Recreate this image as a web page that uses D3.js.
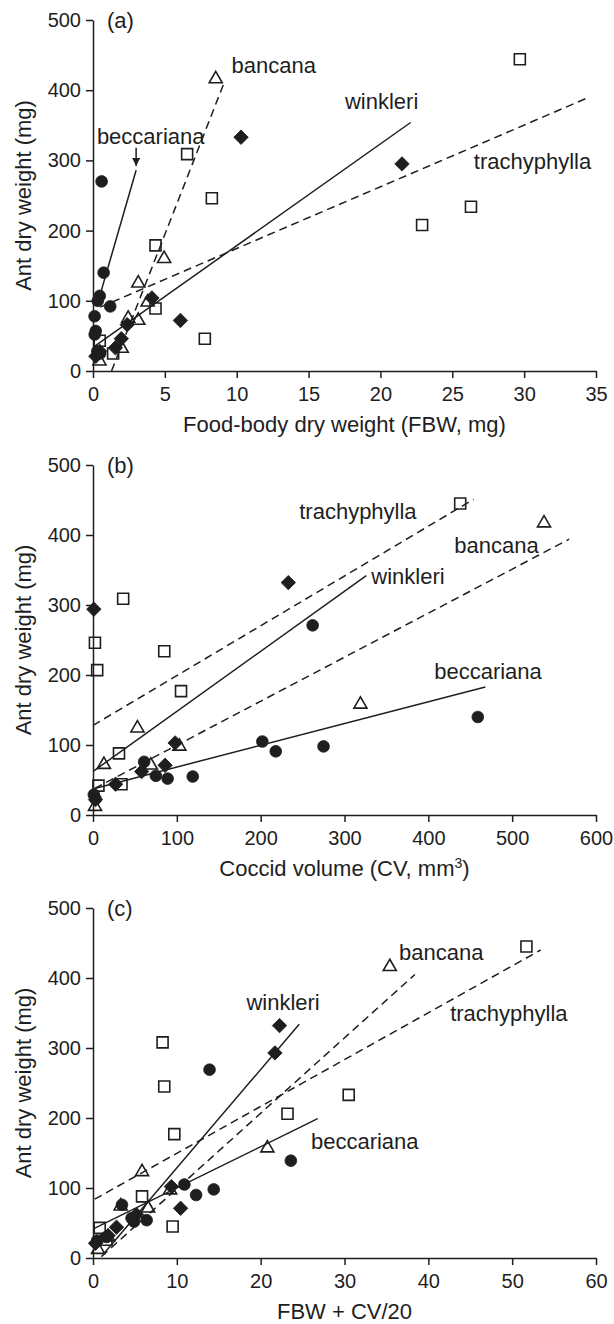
<!DOCTYPE html>
<html>
<head>
<meta charset="utf-8">
<script src="https://cdn.jsdelivr.net/npm/d3@7"></script>
<style>
    body { margin: 0; background: #fff; }
    svg text { font-family: "Liberation Sans", Arial, Helvetica, sans-serif; fill: #1e1e1e; }
</style>
</head>
<body>
<div id="chart"></div>
<script>
// ---- data ----
// each point is [x, ant dry weight (mg)]

// panel (a): food-body dry weight (FBW, mg)
const fbwTrachyphylla = [[29.7, 444], [6.55, 309], [8.27, 246], [26.3, 234], [22.9, 208], [4.35, 179], [4.35, 89], [7.78, 46], [0.47, 43], [1.4, 25]];
const fbwBancana = [[8.54, 416], [4.95, 160], [3.15, 125], [3.8, 98], [3.15, 72], [2.45, 75], [2.0, 32], [0.45, 14]];
const fbwBeccariana = [[0.6, 270], [0.74, 140], [0.47, 107], [0.33, 100], [1.2, 92], [0.11, 78], [0.19, 57], [0.12, 52], [0.3, 28], [0.5, 25]];
const fbwWinkleri = [[10.3, 333], [21.5, 295], [4.1, 104], [6.08, 72], [2.38, 66], [1.97, 46], [1.56, 33], [0.47, 28], [0.2, 21]];

// panel (b): coccid volume (CV, mm3)
const cvTrachyphylla = [[438, 445], [36, 309], [2.3, 246], [85, 234], [5, 207], [105, 177], [31, 88], [34, 44], [6.5, 42]];
const cvBancana = [[538, 417], [319, 158], [53, 124], [103, 98], [13, 72], [69, 71], [2.4, 12]];
const cvBeccariana = [[262, 271], [459, 140], [202, 105], [218, 91], [275, 98], [61, 76], [75, 56], [89, 52], [119, 55], [1, 29], [3, 23]];
const cvWinkleri = [[233, 332], [1, 294], [98, 103], [86, 71], [58, 62], [27, 44], [3, 22]];

// panel (c): FBW + CV/20
const sumTrachyphylla = [[51.7, 445], [8.3, 308], [8.5, 245], [30.5, 233], [23.2, 206], [9.7, 177], [5.85, 88], [9.5, 45], [0.8, 43], [1.6, 26]];
const sumBancana = [[35.4, 416], [20.8, 157], [5.85, 123], [9.2, 97], [6.57, 71], [3.3, 74], [1.8, 30], [0.6, 12]];
const sumBeccariana = [[13.9, 269], [23.6, 139], [10.9, 105], [12.3, 90], [14.4, 98], [3.45, 76], [4.6, 57], [4.9, 52], [6.4, 54], [0.5, 25], [1.6, 30]];
const sumWinkleri = [[22.25, 332], [21.7, 293], [9.35, 102], [10.45, 71], [5.2, 62], [2.8, 44], [1.8, 32], [0.3, 21]];

// regression lines, start and end point
const fitA = { trachyphylla: [[0.5, 91], [34.4, 389]], bancana: [[1.29, 0], [9.15, 412]], beccariana: [[0.33, 97], [3.0, 286]], winkleri: [[0.1, 35], [22.1, 354]] };
const fitB = { trachyphylla: [[0, 128], [454, 451]], bancana: [[2, 38], [568, 394]], beccariana: [[2, 38], [468, 183]], winkleri: [[1, 63], [326, 342]] };
const fitC = { trachyphylla: [[0.2, 84], [53.4, 440]], bancana: [[1.0, 2], [38.4, 405]], beccariana: [[0.1, 42], [26.8, 199]], winkleri: [[1.2, 5], [24.6, 334]] };

// species labels, left edge of the text
const labelsA = { bancana: [9.64, 436], winkleri: [17.53, 384], beccariana: [0.27, 334], trachyphylla: [26.5, 299] };
const labelsB = { trachyphylla: [246, 434], bancana: [431, 385], winkleri: [332, 341], beccariana: [407, 206] };
const labelsC = { bancana: [36.5, 437], winkleri: [18.3, 365], trachyphylla: [42.6, 349], beccariana: [26, 167] };

const arrowA = [[3.0, 318], [3.0, 292]]; // beccariana pointer in (a)

const yTicks = [0, 100, 200, 300, 400, 500];
const xTicksA = [0, 5, 10, 15, 20, 25, 30, 35];
const xTicksB = [0, 100, 200, 300, 400, 500, 600];
const xTicksC = [0, 10, 20, 30, 40, 50, 60];

// ---- drawing ----
const ink = "#1e1e1e";
const left = 93, right = 596;

const svg = d3.select("#chart").append("svg")
    .attr("width", 614)
    .attr("height", 1324);

svg.append("defs").append("marker")
    .attr("id", "arrow")
    .attr("viewBox", "0 -5 10 10")
    .attr("refX", 10)
    .attr("refY", 0)
    .attr("markerWidth", 8)
    .attr("markerHeight", 8)
    .attr("markerUnits", "userSpaceOnUse")
    .attr("orient", "auto")
    .append("path")
    .attr("fill", ink)
    .attr("d", "M0,-5L10,0L0,5Z");

const styles = {
    trachyphylla: { shape: "square", dashed: true },
    bancana: { shape: "triangle", dashed: true },
    beccariana: { shape: "circle", dashed: false },
    winkleri: { shape: "diamond", dashed: false }
};

const panels = [
    { tag: "(a)", top: 20, bottom: 371, xMax: 35, xTicks: xTicksA, title: "Food-body dry weight (FBW, mg)",
      points: { trachyphylla: fbwTrachyphylla, bancana: fbwBancana, beccariana: fbwBeccariana, winkleri: fbwWinkleri },
      fits: fitA, labels: labelsA, arrow: arrowA },
    { tag: "(b)", top: 465, bottom: 815, xMax: 600, xTicks: xTicksB, title: "Coccid volume (CV, mm",
      points: { trachyphylla: cvTrachyphylla, bancana: cvBancana, beccariana: cvBeccariana, winkleri: cvWinkleri },
      fits: fitB, labels: labelsB },
    { tag: "(c)", top: 908, bottom: 1258, xMax: 60, xTicks: xTicksC, title: "FBW + CV/20",
      points: { trachyphylla: sumTrachyphylla, bancana: sumBancana, beccariana: sumBeccariana, winkleri: sumWinkleri },
      fits: fitC, labels: labelsC }
];

function symbolPath(shape) {
    if (shape === "square") return d3.symbol(d3.symbolSquare, 121)();
    if (shape === "triangle") return d3.symbol(d3.symbolTriangle, 74)();
    if (shape === "diamond") return d3.symbol(d3.symbolSquare, 104)();
    return d3.symbol(d3.symbolCircle, 108)();
}

panels.forEach(p => {
    const x = d3.scaleLinear().domain([0, p.xMax]).range([left, right]);
    const y = d3.scaleLinear().domain([0, 500]).range([p.bottom, p.top]);
    const g = svg.append("g");

    // axes
    const yAxis = g.append("g")
        .attr("transform", `translate(${left},0)`)
        .call(d3.axisLeft(y).tickValues(yTicks).tickSize(7).tickSizeOuter(0).tickPadding(5));
    const xAxis = g.append("g")
        .attr("transform", `translate(0,${p.bottom})`)
        .call(d3.axisBottom(x).tickValues(p.xTicks).tickSize(7).tickSizeOuter(0).tickPadding(9));
    [yAxis, xAxis].forEach(a => {
        a.selectAll("path, line").attr("stroke", ink).attr("stroke-width", 1.5);
        a.selectAll("text").attr("fill", ink).style("font-size", "20px")
            .style("font-family", '"Liberation Sans", Arial, sans-serif');
    });

    // fit lines
    Object.entries(p.fits).forEach(([sp, seg]) => {
        g.append("line")
            .attr("x1", x(seg[0][0])).attr("y1", y(seg[0][1]))
            .attr("x2", x(seg[1][0])).attr("y2", y(seg[1][1]))
            .attr("stroke", ink)
            .attr("stroke-width", 1.5)
            .attr("stroke-dasharray", styles[sp].dashed ? "8,5" : null);
    });

    // points
    Object.entries(p.points).forEach(([sp, pts]) => {
        const st = styles[sp];
        const filled = st.shape === "circle" || st.shape === "diamond";
        g.append("g").selectAll("path")
            .data(pts)
            .join("path")
            .attr("d", symbolPath(st.shape))
            .attr("transform", d => `translate(${x(d[0])},${y(d[1])})` + (st.shape === "diamond" ? " rotate(45)" : ""))
            .attr("fill", filled ? ink : "none")
            .attr("stroke", ink)
            .attr("stroke-width", filled ? 0.8 : 1.6);
    });

    // species labels
    Object.entries(p.labels).forEach(([sp, pos]) => {
        g.append("text")
            .attr("x", x(pos[0]))
            .attr("y", y(pos[1]))
            .attr("dy", "0.35em")
            .style("font-size", "22px")
            .text(sp);
    });

    if (p.arrow) {
        g.append("line")
            .attr("x1", x(p.arrow[0][0])).attr("y1", y(p.arrow[0][1]))
            .attr("x2", x(p.arrow[1][0])).attr("y2", y(p.arrow[1][1]))
            .attr("stroke", ink)
            .attr("stroke-width", 1.5)
            .attr("marker-end", "url(#arrow)");
    }

    // panel tag
    g.append("text")
        .attr("x", left + 14)
        .attr("y", p.top)
        .attr("dy", "0.35em")
        .style("font-size", "22px")
        .text(p.tag);

    // axis titles
    const t = g.append("text")
        .attr("x", (left + right) / 2)
        .attr("y", p.bottom + 61)
        .attr("text-anchor", "middle")
        .style("font-size", "22px")
        .text(p.title);
    if (p.tag === "(b)") {
        t.append("tspan").attr("baseline-shift", "super").style("font-size", "14px").text("3");
        t.append("tspan").text(")");
    }

    g.append("text")
        .attr("transform", `translate(31,${(p.top + p.bottom) / 2}) rotate(-90)`)
        .attr("text-anchor", "middle")
        .style("font-size", "22px")
        .text("Ant dry weight (mg)");
});
</script>
</body>
</html>
